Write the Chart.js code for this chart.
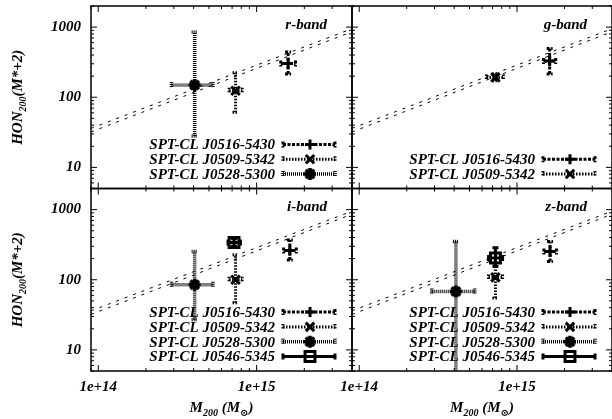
<!DOCTYPE html>
<html><head><meta charset="utf-8">
<script src="https://cdn.jsdelivr.net/npm/chart.js@4.4.0/dist/chart.umd.min.js"></script>
<style>
html,body{margin:0;padding:0;background:#fff;}
#wrap{position:relative;width:612px;height:419px;overflow:hidden;background:#fff;}
#wrap canvas{position:absolute;left:0;top:0;}
</style></head><body>
<div id="wrap">
<canvas id="c0" width="612" height="419"></canvas>
<canvas id="c1" width="612" height="419"></canvas>
<canvas id="c2" width="612" height="419"></canvas>
<canvas id="c3" width="612" height="419"></canvas>
</div>
<script>
// ---------------- data ----------------
const bandNames = ['r-band', 'g-band', 'i-band', 'z-band'];
const clusterNames = ['SPT-CL J0516-5430', 'SPT-CL J0509-5342', 'SPT-CL J0528-5300', 'SPT-CL J0546-5345'];
const xTickLabels = ['1e+14', '1e+15'];
const yTickLabels = ['10', '100', '1000'];
const massRange = [9e13, 4e15];
const honRange = [5, 2000];

// two dashed reference relations (end points)
const fitMass = [9e13, 4e15];
const fitUpper = [36, 950];
const fitLower = [32, 860];

// r-band (J0516, J0509, J0528)
const rMass   = [1.58e15, 7.36e14, 4.06e14];
const rMassLo = [1.42e15, 6.7e14, 2.9e14];
const rMassHi = [1.76e15, 8.1e14, 5.3e14];
const rHon    = [303, 124, 149];
const rHonLo  = [215, 61, 28];
const rHonHi  = [440, 223, 850];
// g-band (J0516, J0509)
const gMass   = [1.61e15, 7.3e14];
const gMassLo = [1.47e15, 6.4e14];
const gMassHi = [1.76e15, 8.2e14];
const gHon    = [330, 192];
const gHonLo  = [214, 172];
const gHonHi  = [496, 215];
// i-band (J0516, J0509, J0528, J0546)
const iMass   = [1.62e15, 7.36e14, 4.06e14, 7.2e14];
const iMassLo = [1.48e15, 6.7e14, 2.9e14, 6.6e14];
const iMassHi = [1.78e15, 8.1e14, 5.3e14, 7.9e14];
const iHon    = [261, 100, 85, 339];
const iHonLo  = [192, 47, 27, 300];
const iHonHi  = [370, 227, 253, 385];
// z-band (J0516, J0509, J0528, J0546)
const zMass   = [1.62e15, 7.3e14, 4.1e14, 7.3e14];
const zMassLo = [1.48e15, 6.6e14, 2.88e14, 6.6e14];
const zMassHi = [1.78e15, 8.1e14, 5.4e14, 8.1e14];
const zHon    = [253, 108, 68, 204];
const zHonLo  = [182, 55, 3, 155];
const zHonHi  = [351, 173, 351, 285];

const bandData = [
  [rMass, rMassLo, rMassHi, rHon, rHonLo, rHonHi],
  [gMass, gMassLo, gMassHi, gHon, gHonLo, gHonHi],
  [iMass, iMassLo, iMassHi, iHon, iHonLo, iHonHi],
  [zMass, zMassLo, zMassHi, zHon, zHonLo, zHonHi]
];

// ---------------- styles / layout ----------------
const FONT = '"Liberation Serif", "Times New Roman", "DejaVu Serif", serif';
const W = 612, H = 419;
const PANEL_X = [[91, 352], [352, 612]];
const PANEL_Y = [[6, 188.5], [188.5, 371]];
const clusterStyles = [
  {pointStyle: 'cross',    radius: 5,   dash: [3, 1.5], width: 3},
  {pointStyle: 'crossRot', radius: 6,   dash: [1.5, 1.5], width: 3},
  {pointStyle: 'star',     radius: 6,   dash: [1, 1],   width: 3.5},
  {pointStyle: 'rect',     radius: 7,   dash: [],       width: 3}
];

function richText(ctx, parts, cx, cy, rot) {
  ctx.save();
  ctx.translate(cx, cy);
  if (rot) ctx.rotate(-Math.PI / 2);
  let total = 0;
  parts.forEach(p => { ctx.font = 'italic bold ' + p.size + 'px ' + FONT; p.w = ctx.measureText(p.t).width; total += p.w; });
  let x = -total / 2;
  ctx.fillStyle = '#000';
  ctx.textBaseline = 'alphabetic';
  ctx.textAlign = 'left';
  parts.forEach(p => { ctx.font = 'italic bold ' + p.size + 'px ' + FONT; ctx.fillText(p.t, x, 5 + (p.dy || 0)); x += p.w; });
  ctx.restore();
}

function marker(ctx, style, x, y) {
  if (Chart.helpers && Chart.helpers.drawPoint) {
    ctx.save();
    ctx.strokeStyle = '#000'; ctx.fillStyle = 'rgba(0,0,0,0)'; ctx.lineWidth = style.width; ctx.setLineDash([]);
    Chart.helpers.drawPoint(ctx, {pointStyle: style.pointStyle, radius: style.radius, rotation: 0, borderWidth: style.width}, x, y);
    ctx.restore();
  }
}

function seg(ctx, x1, y1, x2, y2) { ctx.beginPath(); ctx.moveTo(x1, y1); ctx.lineTo(x2, y2); ctx.stroke(); }

const decorPlugin = {
  id: 'panelDecor',
  beforeDatasetsDraw(chart) {
    const ctx = chart.ctx, xs = chart.scales.x, ys = chart.scales.y, a = chart.chartArea;
    ctx.save();
    ctx.beginPath(); ctx.rect(a.left, a.top, a.right - a.left, a.bottom - a.top); ctx.clip();
    ctx.strokeStyle = '#000';
    chart.data.datasets.forEach(ds => {
      if (!ds.err) return;
      const st = ds.clusterStyle;
      ctx.lineWidth = st.width; ctx.setLineDash(st.dash); ctx.lineCap = 'butt';
      ds.data.forEach((d, i) => {
        const e = ds.err[i];
        const px = xs.getPixelForValue(d.x), py = ys.getPixelForValue(d.y);
        const yl = ys.getPixelForValue(e.yl), yh = ys.getPixelForValue(e.yh);
        const xl = xs.getPixelForValue(e.xl), xh = xs.getPixelForValue(e.xh);
        seg(ctx, px, yl, px, yh);
        seg(ctx, px - 3, yl, px + 3, yl); seg(ctx, px - 3, yh, px + 3, yh);
        seg(ctx, xl, py, xh, py);
        seg(ctx, xl, py - 3, xl, py + 3); seg(ctx, xh, py - 3, xh, py + 3);
      });
    });
    ctx.restore();
  },
  afterDraw(chart, args, opts) {
    const ctx = chart.ctx, xs = chart.scales.x, ys = chart.scales.y, a = chart.chartArea;
    ctx.save();
    ctx.strokeStyle = '#000'; ctx.setLineDash([]);
    // inward tick marks on all sides
    ctx.lineWidth = 1;
    const isMajor = v => Math.abs(Math.log10(v) - Math.round(Math.log10(v))) < 1e-9;
    for (let e = 13; e <= 15; e++) for (let k = 1; k <= 9; k++) {
      const v = k * Math.pow(10, e);
      if (v < massRange[0] || v > massRange[1]) continue;
      const p = xs.getPixelForValue(v), L = isMajor(v) ? 6 : 3;
      seg(ctx, p, a.bottom, p, a.bottom - L); seg(ctx, p, a.top, p, a.top + L);
    }
    for (let e = 0; e <= 3; e++) for (let k = 1; k <= 9; k++) {
      const v = k * Math.pow(10, e);
      if (v < honRange[0] || v > honRange[1]) continue;
      const p = ys.getPixelForValue(v), L = isMajor(v) ? 6 : 3;
      seg(ctx, a.left, p, a.left + L, p); seg(ctx, a.right, p, a.right - L, p);
    }
    // frame
    ctx.lineWidth = 1.5;
    ctx.strokeRect(a.left, a.top, a.right - a.left, a.bottom - a.top);
    // band label
    ctx.fillStyle = '#000';
    ctx.font = 'italic bold 15px ' + FONT;
    ctx.textAlign = 'right'; ctx.textBaseline = 'middle';
    ctx.fillText(opts.band, a.right - 25, a.top + 19);
    // legend
    const items = chart.data.datasets.filter(d => d.clusterStyle);
    const n = items.length, rowH = 14.8;
    items.forEach((ds, i) => {
      const y = a.bottom - 14.5 - (n - 1 - i) * rowH;
      ctx.font = 'italic bold 15px ' + FONT;
      ctx.textAlign = 'right'; ctx.textBaseline = 'middle'; ctx.fillStyle = '#000';
      ctx.fillText(ds.label, a.right - 77, y + 1);
      const st = ds.clusterStyle;
      const x1 = a.right - 69, x2 = a.right - 17;
      ctx.lineWidth = st.width; ctx.setLineDash(st.dash);
      seg(ctx, x1, y, x2, y);
      seg(ctx, x1, y - 3, x1, y + 3); seg(ctx, x2, y - 3, x2, y + 3);
      ctx.setLineDash([]);
      marker(ctx, st, a.right - 42, y);
    });
    // axis titles
    if (opts.yTitle) {
      richText(ctx, [{t: 'HON', size: 15}, {t: '200', size: 10, dy: 4}, {t: '(M*+2)', size: 15}], 17, (a.top + a.bottom) / 2, true);
    }
    if (opts.xTitle) {
      richText(ctx, [{t: 'M', size: 15}, {t: '200', size: 10, dy: 4}, {t: ' (M', size: 15}, {t: '\u2299', size: 10, dy: 4}, {t: ')', size: 15}], (a.left + a.right) / 2, 407, false);
    }
    ctx.restore();
  }
};

bandNames.forEach((band, idx) => {
  const col = idx % 2, row = Math.floor(idx / 2);
  const [x0, x1] = PANEL_X[col], [y0, y1] = PANEL_Y[row];
  const showY = col === 0, showX = row === 1;
  const [mass, massLo, massHi, hon, honLo, honHi] = bandData[idx];
  const datasets = mass.map((m, i) => ({
    type: 'scatter',
    label: clusterNames[i],
    data: [{x: m, y: hon[i]}],
    err: [{xl: massLo[i], xh: massHi[i], yl: honLo[i], yh: honHi[i]}],
    clusterStyle: clusterStyles[i],
    pointStyle: clusterStyles[i].pointStyle,
    pointRadius: clusterStyles[i].radius,
    pointBorderWidth: clusterStyles[i].width,
    borderColor: '#000',
    backgroundColor: 'rgba(0,0,0,0)',
    pointBackgroundColor: 'rgba(0,0,0,0)',
    pointBorderColor: '#000',
    clip: false
  }));
  datasets.push({
    type: 'line', label: 'fit upper',
    data: fitMass.map((m, i) => ({x: m, y: fitUpper[i]})),
    borderColor: '#000', borderWidth: 1, borderDash: [3, 6], pointRadius: 0, fill: false
  });
  datasets.push({
    type: 'line', label: 'fit lower',
    data: fitMass.map((m, i) => ({x: m, y: fitLower[i]})),
    borderColor: '#000', borderWidth: 1, borderDash: [3, 6], pointRadius: 0, fill: false
  });
  const tickFont = {family: FONT, size: 15, weight: 'bold', style: 'italic'};
  const chart = new Chart(document.getElementById('c' + idx), {
    type: 'scatter',
    data: {datasets},
    plugins: [decorPlugin],
    options: {
      responsive: false, animation: false, devicePixelRatio: 1,
      layout: {autoPadding: false, padding: {left: showY ? 0 : x0, right: W - x1, top: y0, bottom: showX ? 0 : H - y1}},
      plugins: {legend: {display: false}, tooltip: {enabled: false},
        panelDecor: {band: band, yTitle: showY, xTitle: showX}},
      scales: {
        x: {
          type: 'logarithmic', min: massRange[0], max: massRange[1], display: showX, position: 'bottom',
          grid: {display: false, drawTicks: false}, border: {display: false},
          ticks: {autoSkip: false, maxRotation: 0, minRotation: 0, padding: 7, color: '#000', font: tickFont,
            callback: v => { const s = Number(v).toExponential(); return xTickLabels.includes(s) ? s : ''; }},
          afterFit: s => { if (showX) s.height = H - y1; else s.height = 0; s.paddingLeft = 0; s.paddingRight = 0; }
        },
        y: {
          type: 'logarithmic', min: honRange[0], max: honRange[1], display: showY, position: 'left',
          grid: {display: false, drawTicks: false}, border: {display: false},
          ticks: {autoSkip: false, padding: 10, color: '#000', font: tickFont,
            callback: v => { const s = String(v); return yTickLabels.includes(s) ? s : ''; }},
          afterFit: s => { if (showY) s.width = x0; else s.width = 0; s.paddingTop = 0; s.paddingBottom = 0; }
        }
      }
    }
  });
  // compensate for any residual layout offset so the panel lands on its frame
  const a = chart.chartArea;
  const p = chart.options.layout.padding;
  const dTop = a.top - y0, dBottom = y1 - a.bottom, dLeft = a.left - x0, dRight = x1 - a.right;
  if (Math.abs(dTop) > 0.3 || Math.abs(dBottom) > 0.3 || Math.abs(dLeft) > 0.3 || Math.abs(dRight) > 0.3) {
    chart.options.layout.padding = {
      top: Math.max(0, p.top - dTop), bottom: Math.max(0, p.bottom - dBottom),
      left: Math.max(0, p.left - dLeft), right: Math.max(0, p.right - dRight)
    };
    chart.update();
  }
});
</script>
</body></html>
